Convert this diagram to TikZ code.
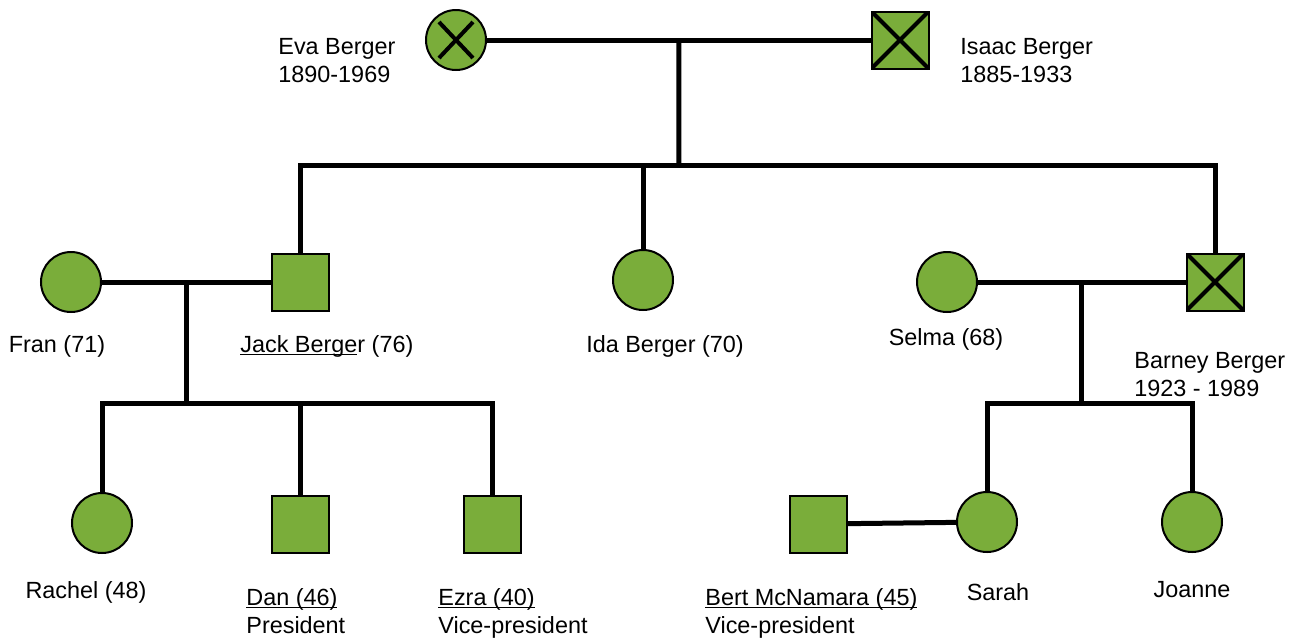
\documentclass[tikz,border=0pt]{standalone}
\usepackage{fontspec}
\setmainfont{Liberation Sans}

\definecolor{pedgreen}{RGB}{122,173,58}
\newcommand{\uln}[1]{\underline{\smash{#1}}}

\tikzset{
  person/.style={draw=black, fill=pedgreen, line width=1pt, inner sep=0pt},
  female/.style={person, circle, minimum size=30pt},
  male/.style={person, rectangle, minimum size=28.5pt},
  deadf/.style={path picture={
    \draw[line width=2pt] ([shift={(-8.5pt,9pt)}]path picture bounding box.center) -- ([shift={(8.5pt,-9pt)}]path picture bounding box.center)
      ([shift={(8.5pt,9pt)}]path picture bounding box.center) -- ([shift={(-8.5pt,-9pt)}]path picture bounding box.center);}},
  deadm/.style={path picture={
    \draw[line width=2pt] (path picture bounding box.north west) -- (path picture bounding box.south east)
      (path picture bounding box.north east) -- (path picture bounding box.south west);}},
  conn/.style={line width=2.5pt},
  lbl/.style={inner sep=0pt, align=left, font=\fontsize{11.7}{14}\selectfont}
}

\begin{document}
\begin{tikzpicture}[x=0.5pt,y=-0.5pt]
    \useasboundingbox (0,0) rectangle (1298,639);

    % first generation
    \node[female,deadf] (eva) at (456,40) {};
    \node[male,deadm] (isaac) at (900,40) {};
    \node[lbl,anchor=west] (evalbl) at (278,61) {Eva Berger\\1890-1969};
    \node[lbl,anchor=west] (isaaclbl) at (960,61) {Isaac Berger\\1885-1933};

    % second generation
    \node[female] (fran) at (71,282) {};
    \node[male] (jack) at (300,282) {};
    \node[female] (ida) at (643,280) {};
    \node[female] (selma) at (947,282) {};
    \node[male,deadm] (barney) at (1215,282) {};
    \node[lbl] (franlbl) at (57,346) {Fran (71)};
    \node[lbl,anchor=west] (jacklbl) at (240,346) {\uln{Jack Berge}r (76)};
    \node[lbl] (idalbl) at (665,346) {Ida Berger (70)};
    \node[lbl] (selmalbl) at (946,339) {Selma (68)};
    \node[lbl,anchor=west] (barneylbl) at (1134,375) {Barney Berger\\1923 - 1989};

    % third generation
    \node[female] (rachel) at (102,523) {};
    \node[male] (dan) at (300,524) {};
    \node[male] (ezra) at (492,524) {};
    \node[male] (bert) at (818,524) {};
    \node[female] (sarah) at (987,522) {};
    \node[female] (joanne) at (1192,522) {};
    \node[lbl] (rachellbl) at (86,592) {Rachel (48)};
    \node[lbl,anchor=base west] (danlbl) at (246,633) {\uln{Dan (46)}\\President};
    \node[lbl,anchor=base west] (ezralbl) at (438,633) {\uln{Ezra (40)}\\Vice-president};
    \node[lbl,anchor=base west] (bertlbl) at (705,633) {\uln{Bert McNamara (45)}\\Vice-president};
    \node[lbl] (sarahlbl) at (998,592) {Sarah};
    \node[lbl] (joannelbl) at (1192,590) {Joanne};

    % lines
    \coordinate (bar2) at (679,165);
    \coordinate (bar3) at (0,403);

    \draw[conn] (eva) -- coordinate (m1) (isaac);
    \draw[conn] (m1) -- (bar2);
    \draw[conn] (jack.north) |- (bar2) -| (barney.north);
    \draw[conn] (ida.north) -- (ida.north |- bar2);

    \draw[conn] (fran) -- coordinate (m2) (jack);
    \draw[conn] (m2) -- (m2 |- bar3);
    \draw[conn] (rachel.north) |- (ezra.north |- bar3) -- (ezra.north);
    \draw[conn] (dan.north) -- (dan.north |- bar3);

    \draw[conn] (selma) -- coordinate (m3) (barney);
    \draw[conn] (m3) -- (m3 |- bar3);
    \draw[conn] (sarah.north) |- (joanne.north |- bar3) -- (joanne.north);
    \draw[conn] (bert) -- (sarah);
\end{tikzpicture}
\end{document}
